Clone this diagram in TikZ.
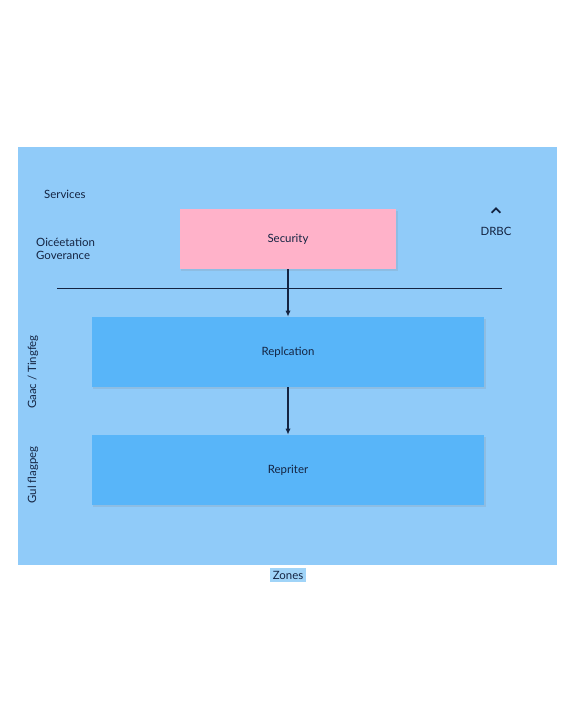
\documentclass[tikz,border=0pt]{standalone}
\usepackage{fontspec}
\setmainfont{Lato}
\usetikzlibrary{arrows.meta,shadows}

\definecolor{panelblue}{RGB}{144,203,249}
\definecolor{boxblue}{RGB}{88,181,249}
\definecolor{boxpink}{RGB}{255,178,201}
\definecolor{zonefill}{RGB}{160,212,248}
\definecolor{inkblue}{RGB}{20,36,66}

\tikzset{
	layer/.style={fill=boxblue, minimum width=7.86cm, minimum height=1.4cm,
		drop shadow={shadow xshift=0.6pt, shadow yshift=-1pt, opacity=0.18}},
	label/.style={text=inkblue, font=\fontsize{6.5}{7.8}\selectfont},
	arr/.style={draw=inkblue, line width=0.6pt, -{Latex[length=3.5pt,width=3pt]}}
}

\begin{document}
\begin{tikzpicture}[x=0.02cm, y=-0.02cm]
	\useasboundingbox (0,0) rectangle (576,720);
	\fill[white] (0,0) rectangle (576,720);
	\fill[panelblue] (18,147) rectangle (557,565);

	\node[label, anchor=west] (services) at (38,194) {Services};
	\node[label, anchor=west, align=left] (gov) at (30,249) {Oicéetation\\Goverance};
	\node[label] (drbc) at (496,231) {DRBC};
	\draw[inkblue, line width=1pt] ([xshift=-2.5pt, yshift=4.5pt]drbc.north) -- ++(2.5pt,2.5pt) -- ++(2.5pt,-2.5pt);

	\node[label, fill=boxpink, minimum width=4.34cm, minimum height=1.2cm,
		drop shadow={shadow xshift=0.6pt, shadow yshift=-1pt, opacity=0.18}] (security) at (288,239) {Security};
	\coordinate (sepl) at (57,288);
	\coordinate (sepr) at (502,288);
	\draw[inkblue, line width=0.5pt] (sepl) -- (sepr);

	\node[label, layer] (replication) at (288,352) {Replcation};
	\node[label, layer] (repriter) at (288,470) {Repriter};

	\node[label, rotate=90] (tagone) at (33,372) {Gaac / Tingfeg};
	\node[label, rotate=90] (tagtwo) at (33,475) {Gul flagpeg};

	\draw[arr] (security) -- (replication);
	\draw[arr] (replication) -- (repriter);

	\node[label, fill=zonefill, inner sep=1.5pt] (zones) at (288,575) {Zones};
\end{tikzpicture}
\end{document}
